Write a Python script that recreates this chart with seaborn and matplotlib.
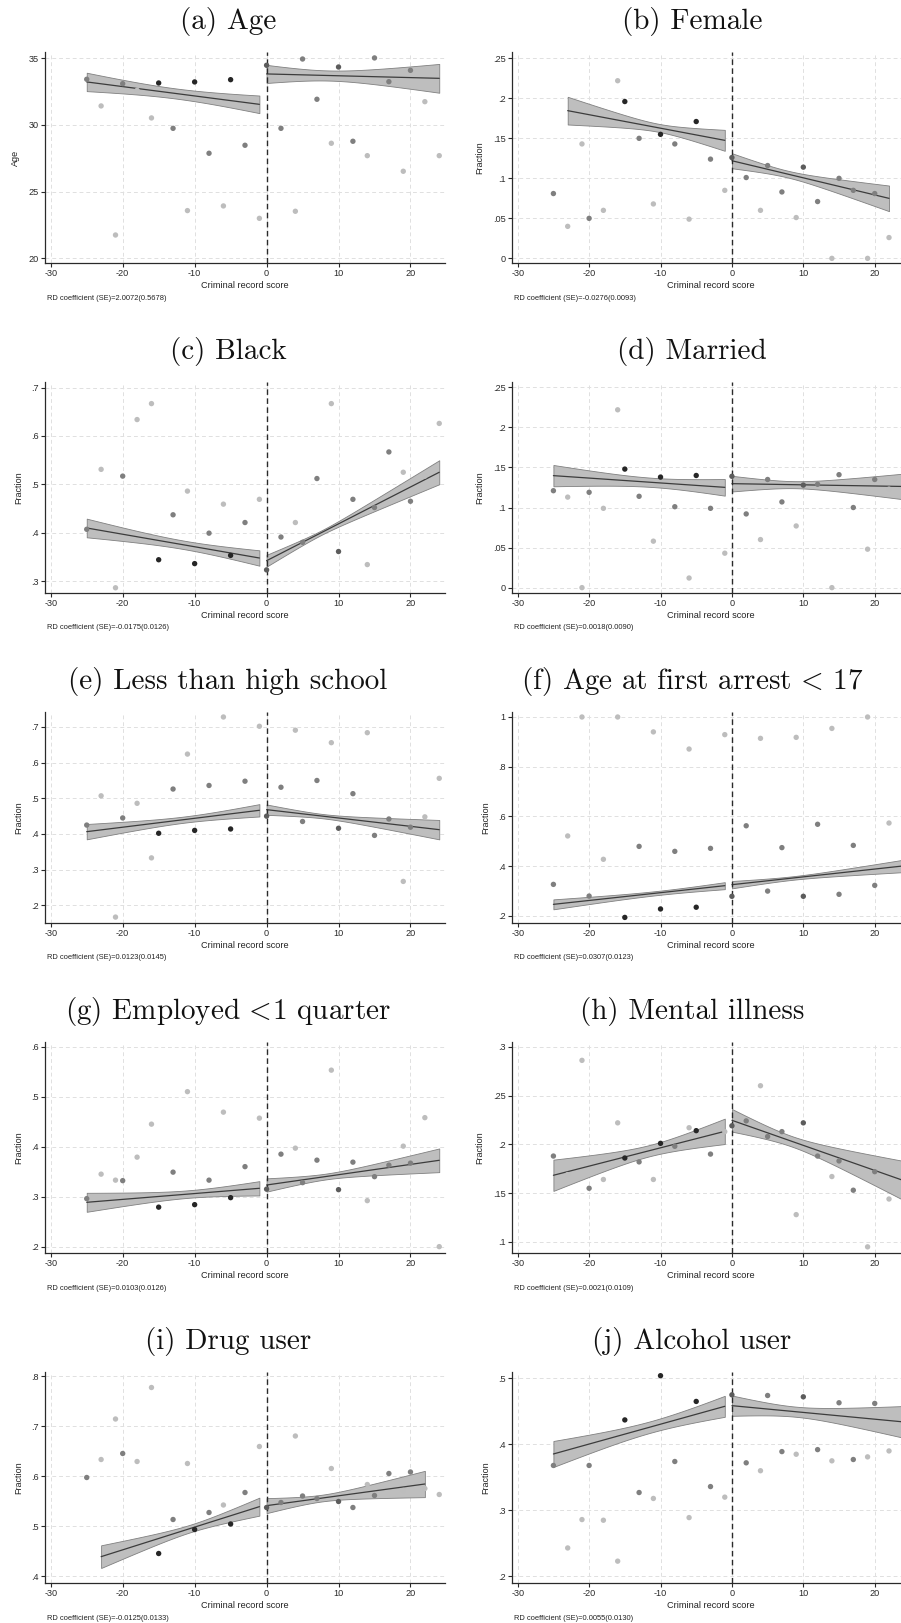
import numpy as np
import pandas as pd
import matplotlib
matplotlib.use("Agg")
import matplotlib.pyplot as plt
import seaborn as sns
from matplotlib.ticker import FuncFormatter

# ---------------------------------------------------------------- data
score = [-25, -23, -21, -20, -18, -16, -15, -13, -11, -10, -8, -6, -5, -3, -1,
         0, 2, 4, 5, 7, 9, 10, 12, 14, 15, 17, 19, 20, 22, 24]

# relative number of observations in each score bin (sets the marker shade)
bin_size = ["mid", "small", "small", "mid", "small", "small", "large", "mid",
            "small", "large", "mid", "small", "large", "mid", "small",
            "midlarge", "mid", "small", "mid", "mid", "small", "midlarge",
            "mid", "small", "mid", "mid", "small", "mid", "small", "small"]

age = [33.43, 31.43, 21.75, 33.10, 32.60, 30.53, 33.15, 29.75, 23.58, 33.23,
       27.88, 23.93, 33.40, 28.48, 23.00, 34.48, 29.75, 23.53, 34.95, 31.93,
       28.63, 34.35, 28.78, 27.70, 35.03, 33.25, 26.53, 34.10, 31.75, 27.70]
female = [0.081, 0.040, 0.143, 0.050, 0.060, 0.222, 0.196, 0.150, 0.068, 0.155,
          0.143, 0.049, 0.171, 0.124, 0.085, 0.126, 0.101, 0.060, 0.116, 0.083,
          0.051, 0.114, 0.071, 0.000, 0.100, 0.085, 0.000, 0.081, 0.026, None]
black = [0.407, 0.531, 0.286, 0.517, 0.634, 0.667, 0.344, 0.437, 0.486, 0.336,
         0.399, 0.459, 0.353, 0.421, 0.469, 0.323, 0.391, 0.421, 0.380, 0.512,
         0.667, 0.361, 0.469, 0.334, 0.452, 0.567, 0.525, 0.465, 0.517, 0.626]
married = [0.121, 0.113, 0.000, 0.119, 0.099, 0.222, 0.148, 0.114, 0.058, 0.138,
           0.101, 0.012, 0.140, 0.099, 0.043, 0.139, 0.092, 0.060, 0.135, 0.107,
           0.077, 0.128, 0.129, 0.000, 0.141, 0.100, 0.048, 0.135, 0.123, None]
less_hs = [0.425, 0.507, 0.167, 0.445, 0.486, 0.333, 0.402, 0.526, 0.624, 0.410,
           0.536, 0.728, 0.414, 0.548, 0.702, 0.450, 0.531, 0.691, 0.435, 0.550,
           0.656, 0.416, 0.513, 0.684, 0.396, 0.442, 0.267, 0.419, 0.448, 0.556]
first_arrest = [0.326, 0.521, 1.000, 0.279, 0.427, 1.000, 0.193, 0.479, 0.940, 0.227,
                0.459, 0.871, 0.234, 0.471, 0.929, 0.278, 0.562, 0.914, 0.299, 0.474,
                0.918, 0.278, 0.568, 0.954, 0.286, 0.483, 1.000, 0.322, 0.573, None]
employed = [0.296, 0.345, 0.333, 0.332, 0.379, 0.445, 0.279, 0.349, 0.510, 0.284,
            0.333, 0.469, 0.298, 0.360, 0.457, 0.315, 0.385, 0.397, 0.328, 0.373,
            0.553, 0.314, 0.369, 0.292, 0.340, 0.363, 0.401, 0.367, 0.458, 0.200]
mental = [0.188, 0.169, 0.286, 0.155, 0.164, 0.222, 0.186, 0.182, 0.164, 0.201,
          0.198, 0.217, 0.214, 0.190, 0.213, 0.219, 0.224, 0.260, 0.208, 0.213,
          0.128, 0.222, 0.188, 0.167, 0.183, 0.153, 0.095, 0.172, 0.144, None]
drug = [0.597, 0.633, 0.714, 0.645, 0.629, 0.777, 0.445, 0.513, 0.625, 0.493,
        0.527, 0.542, 0.504, 0.567, 0.659, 0.537, 0.547, 0.680, 0.560, 0.555,
        0.615, 0.549, 0.537, 0.583, 0.561, 0.605, 0.571, 0.608, 0.575, 0.563]
alcohol = [0.368, 0.243, 0.286, 0.368, 0.285, 0.223, 0.437, 0.327, 0.318, 0.504,
           0.374, 0.289, 0.465, 0.336, 0.320, 0.475, 0.372, 0.360, 0.474, 0.389,
           0.385, 0.472, 0.392, 0.375, 0.463, 0.377, 0.381, 0.462, 0.390, None]

# local linear fits on each side of the cutoff:
# [x_start, x_end, fit_start, fit_end, ci_half_start, ci_half_mid, ci_half_end]
fit_age = [[-25, -1, 33.23, 31.55, 0.69, 0.38, 0.66],
           [0, 24, 33.83, 33.50, 0.68, 0.44, 1.08]]
fit_female = [[-23, -1, 0.1846, 0.1475, 0.0173, 0.0055, 0.0131],
              [0, 22, 0.1220, 0.0750, 0.0094, 0.0055, 0.0160]]
fit_black = [[-25, -1, 0.4097, 0.3476, 0.0193, 0.0090, 0.0159],
             [0, 24, 0.3420, 0.5250, 0.0122, 0.0080, 0.0248]]
fit_married = [[-25, -1, 0.1398, 0.1252, 0.0133, 0.0060, 0.0104],
               [0, 24, 0.1298, 0.1263, 0.0098, 0.0055, 0.0160]]
fit_less_hs = [[-25, -1, 0.4065, 0.4664, 0.0215, 0.0090, 0.0173],
               [0, 24, 0.4682, 0.4121, 0.0145, 0.0090, 0.0272]]
fit_first_arrest = [[-25, -1, 0.2456, 0.3208, 0.0200, 0.0090, 0.0141],
                    [0, 24, 0.3248, 0.4003, 0.0148, 0.0090, 0.0250]]
fit_employed = [[-25, -1, 0.2887, 0.3167, 0.0190, 0.0080, 0.0143],
                [0, 24, 0.3233, 0.3727, 0.0133, 0.0080, 0.0237]]
fit_mental = [[-25, -1, 0.1683, 0.2133, 0.0160, 0.0060, 0.0130],
              [0, 24, 0.2246, 0.1630, 0.0116, 0.0070, 0.0200]]
fit_drug = [[-23, -1, 0.4387, 0.5387, 0.0227, 0.0080, 0.0180],
            [0, 22, 0.5407, 0.5840, 0.0150, 0.0090, 0.0263]]
fit_alcohol = [[-25, -1, 0.3854, 0.4576, 0.0197, 0.0090, 0.0159],
               [0, 24, 0.4586, 0.4340, 0.0154, 0.0090, 0.0240]]

titles = ["(a) Age", "(b) Female", "(c) Black", "(d) Married",
          "(e) Less than high school", r"(f) Age at first arrest$\,<\,$17",
          r"(g) Employed$\,<\!$1 quarter", "(h) Mental illness",
          "(i) Drug user", "(j) Alcohol user"]
ylabels = ["Age"] + ["Fraction"] * 9
rd_notes = ["2.0072(0.5678)", "-0.0276(0.0093)", "-0.0175(0.0126)",
            "0.0018(0.0090)", "0.0123(0.0145)", "0.0307(0.0123)",
            "0.0103(0.0126)", "0.0021(0.0109)", "-0.0125(0.0133)",
            "0.0055(0.0130)"]
yticks = [[20, 25, 30, 35], [0, .05, .1, .15, .2, .25], [.3, .4, .5, .6, .7],
          [0, .05, .1, .15, .2, .25], [.2, .3, .4, .5, .6, .7],
          [.2, .4, .6, .8, 1], [.2, .3, .4, .5, .6], [.1, .15, .2, .25, .3],
          [.4, .5, .6, .7, .8], [.2, .3, .4, .5]]
xticks = [-30, -20, -10, 0, 10, 20]

# ---------------------------------------------------------------- style
sns.set_theme(style="white")
plt.rcParams["font.family"] = ["Liberation Sans", "DejaVu Sans"]
plt.rcParams["mathtext.fontset"] = "cm"
plt.rcParams["axes.unicode_minus"] = False

shade = {"small": "#bdbdbd", "mid": "#7f7f7f", "midlarge": "#5c5c5c",
         "large": "#262626"}

W, H = 901, 1623
fig = plt.figure(figsize=(W / 100, H / 100), dpi=100)
fig.patch.set_facecolor("white")

series = [age, female, black, married, less_hs, first_arrest,
          employed, mental, drug, alcohol]
fits = [fit_age, fit_female, fit_black, fit_married, fit_less_hs,
        fit_first_arrest, fit_employed, fit_mental, fit_drug, fit_alcohol]
ylims = [(19.65, 35.475), (-0.0058, 0.2579), (0.2752, 0.7117),
         (-0.0067, 0.2567), (0.1504, 0.742), (0.1705, 1.0201),
         (0.1873, 0.6093), (0.0887, 0.3048), (0.386, 0.808), (0.1899, 0.5096)]


def stata_fmt(v, _pos=None):
    s = "%g" % round(v, 4)
    if s.startswith("0."):
        s = s[1:]
    return s


for i in range(10):
    row, col = divmod(i, 2)
    top = row * 330
    ax_left = 45 if col == 0 else 512
    ax_w = 400 if col == 0 else 397
    ax = fig.add_axes([ax_left / W, 1 - (top + 263) / H, ax_w / W, 211 / H])
    ax.set_facecolor("white")

    df = pd.DataFrame({"score": score, "value": series[i], "size": bin_size})
    df = df.dropna()

    # fitted lines with confidence bands
    for x0, x1, y0, y1, h0, hm, h1 in fits[i]:
        xs = np.linspace(x0, x1, 80)
        ys = y0 + (y1 - y0) * (xs - x0) / (x1 - x0)
        xm = 0.5 * (x0 + x1)
        coef = np.polyfit([x0, xm, x1], [h0 ** 2, hm ** 2, h1 ** 2], 2)
        hw = np.sqrt(np.clip(np.polyval(coef, xs), 0, None))
        ax.fill_between(xs, ys - hw, ys + hw, facecolor="#bebebe",
                        edgecolor="#808080", linewidth=0.6, zorder=2)
        sns.lineplot(x=xs, y=ys, color="#3c3c3c", linewidth=0.9, ax=ax,
                     zorder=3)

    sns.scatterplot(data=df, x="score", y="value", hue="size", palette=shade,
                    s=15, linewidth=0, legend=False, ax=ax, zorder=4)

    ax.axvline(0, color="#2a2a2a", linestyle=(0, (4, 2.5)), linewidth=1.0,
               zorder=3)

    ax.set_xlim(-30.8, 24.8)
    ax.set_ylim(*ylims[i])
    ax.set_xticks(xticks)
    ax.set_yticks(yticks[i])
    ax.yaxis.set_major_formatter(FuncFormatter(stata_fmt))
    ax.xaxis.set_major_formatter(FuncFormatter(lambda v, p: "%d" % v))
    ax.grid(True, color="#e0e0e0", linestyle=(0, (4, 3)), linewidth=0.7)
    ax.set_axisbelow(True)
    for side in ("top", "right"):
        ax.spines[side].set_visible(False)
    for side in ("left", "bottom"):
        ax.spines[side].set_color("#2a2a2a")
        ax.spines[side].set_linewidth(0.9)
    ax.tick_params(axis="both", direction="out", length=3, width=0.8,
                   colors="#2a2a2a", labelsize=6.6, pad=1.5,
                   left=True, bottom=True)
    ax.set_xlabel("Criminal record score", fontsize=6.6, labelpad=2,
                  color="#222222")
    ax.set_ylabel(ylabels[i], fontsize=6.5, labelpad=6, color="#222222")

    title_x = 228 if col == 0 else 692
    fig.text(title_x / W, 1 - (top + 21) / H, titles[i], family="cmr10",
             fontsize=21, ha="center", va="center", color="#111111")
    fig.text((ax_left + 2) / W, 1 - (top + 298) / H,
             "RD coefficient (SE)=" + rd_notes[i], fontsize=5.4,
             ha="left", va="center", color="#222222")

fig.savefig("out.png", dpi=100, facecolor="white")
